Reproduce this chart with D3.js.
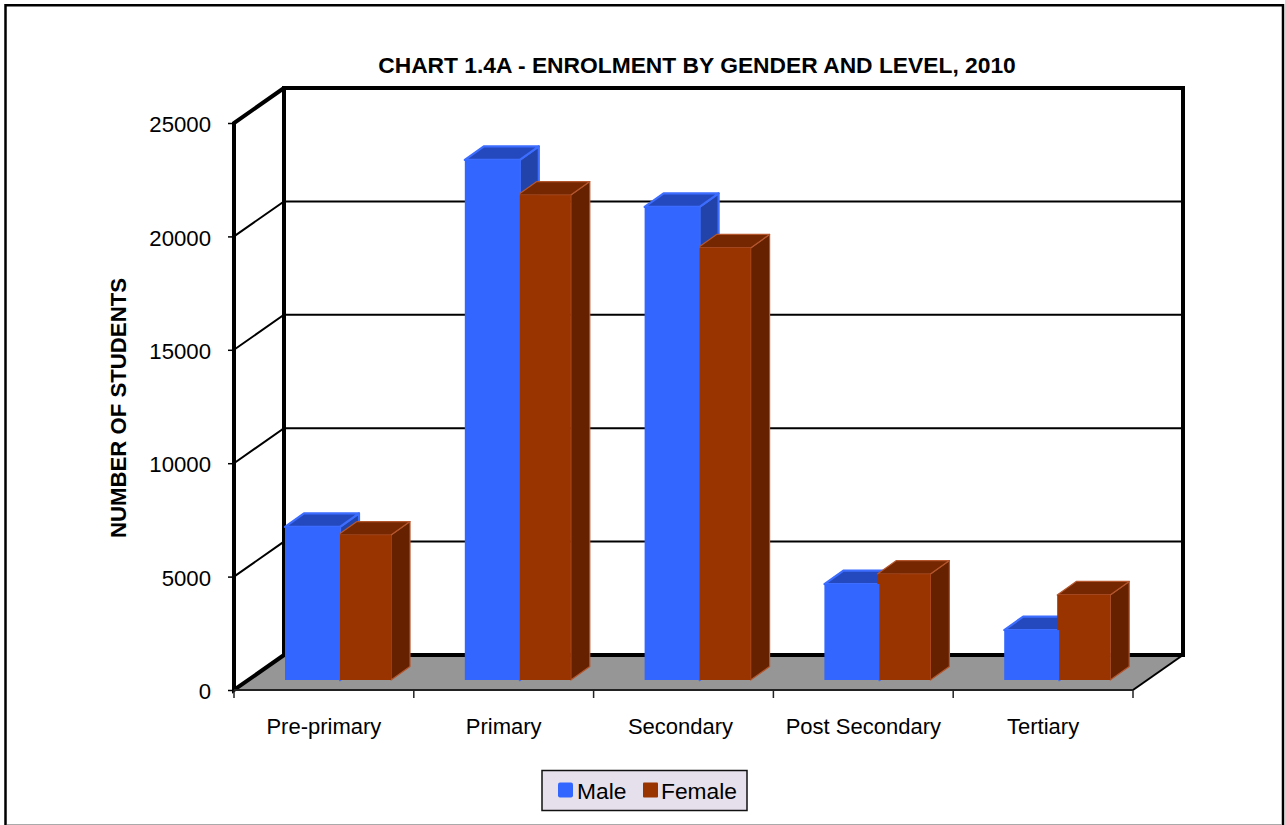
<!DOCTYPE html>
<html><head><meta charset="utf-8">
<script src="https://cdn.jsdelivr.net/npm/d3@7"></script>
<style>html,body{margin:0;padding:0;background:#fff}svg{display:block}text{font-family:"Liberation Sans",Arial,sans-serif;fill:#000}</style>
</head><body><svg id="c" width="1285" height="825"></svg>
<script>
const categories = ["Pre-primary","Primary","Secondary","Post Secondary","Tertiary"];
const male = [6750,22930,20860,4230,2200];
const female = [6390,21380,19050,4670,3750];
const yTicks = [0,5000,10000,15000,20000,25000];
const seriesNames = ["Male","Female"];
const titleText = "CHART 1.4A - ENROLMENT BY GENDER AND LEVEL, 2010";
const yTitle = "NUMBER OF STUDENTS";

const svg = d3.select("#c");
const x = d3.scaleBand().domain(categories).range([234,1133]);
const y = d3.scaleLinear().domain([0,25000]).range([690,123]);
const wall = {dx:50, dy:-35};
const bar = {dx:19, dy:-13.5, lift:10, off:51, mw:55, fw:53, overlap:2};
const colors = {male:{front:"#3366FF",top:"#2449BE",side:"#2244AA",edge:"#3D6DFF",ew:2.2},
                female:{front:"#993300",top:"#742700",side:"#662200",edge:"#B4562E",ew:1.2}};

// frame: three dark edges, and a thin grey line along the bottom
svg.append("path").attr("fill","none").attr("stroke","#000").attr("stroke-width",2.5)
  .attr("d",d3.line()([[5.5,830],[5.5,5.3],[1283,5.3],[1283,830]]));
svg.append("line").attr("x1",7).attr("x2",1282).attr("y1",824.5).attr("y2",824.5)
  .attr("stroke","#aaa").attr("stroke-width",1);

// floor
const x0=x.range()[0], x1=x.range()[1], yb=y(0), yt=y(25000);
svg.append("polygon").attr("fill","#969696")
  .attr("points",[[x0,yb],[x0+wall.dx,yb+wall.dy],[x1+wall.dx,yb+wall.dy],[x1,yb]].join(" "));

// gridlines
const grid = svg.append("g");
yTicks.slice(1,-1).forEach(t=>{
  grid.append("path").attr("fill","none").attr("stroke","#000").attr("stroke-width",2)
    .attr("d",d3.line()([[x0,y(t)],[x0+wall.dx,y(t)+wall.dy],[x1+wall.dx,y(t)+wall.dy]]));
});

// walls
const heavy = svg.append("g").attr("fill","none").attr("stroke","#000").attr("stroke-linejoin","miter");
heavy.append("path").attr("stroke-width",4)
  .attr("d",d3.line()([[x0+wall.dx,yb+wall.dy],[x0+wall.dx,yt+wall.dy],[x1+wall.dx,yt+wall.dy],[x1+wall.dx,yb+wall.dy],[x0+wall.dx,yb+wall.dy]]));
heavy.append("path").attr("stroke-width",4)
  .attr("d",d3.line()([[x0+wall.dx,yb+wall.dy],[x0,yb],[x0,yt],[x0+wall.dx,yt+wall.dy]]));
heavy.append("path").attr("stroke-width",2)
  .attr("d",d3.line()([[x1,yb],[x1+wall.dx,yb+wall.dy]]));

// axes
const yAxis = svg.append("g").attr("transform",`translate(${x0},0)`)
  .call(d3.axisLeft(y).tickValues(yTicks).tickSize(6).tickPadding(17).tickFormat(d3.format("d")));
yAxis.select(".domain").remove();
yAxis.selectAll("line").attr("stroke","#000").attr("stroke-width",1.5);
yAxis.selectAll("text").style("font-size","22.2px").style("font-family",'"Liberation Sans"').attr("dy","0.39em");

const xAxis = svg.append("g").attr("transform",`translate(0,${yb})`)
  .call(d3.axisBottom(x).tickSize(0).tickPadding(28));
xAxis.select(".domain").remove();
xAxis.selectAll("text").style("font-size","22px").style("font-family",'"Liberation Sans"')
  .attr("dx",(d,i)=>i===2?-3:0);
svg.append("line").attr("x1",x0).attr("x2",x1).attr("y1",yb).attr("y2",yb)
  .attr("stroke","#222").attr("stroke-width",2);
const xt = categories.map(c=>x(c)).concat([x1]);
svg.selectAll(".xt").data(xt).join("line").attr("class","xt")
  .attr("x1",d=>d).attr("x2",d=>d).attr("y1",yb).attr("y2",yb+8)
  .attr("stroke","#222").attr("stroke-width",1.5);

// bars
const base = yb-bar.lift;
const h = v => y(0)-y(v);
function drawTop(g,l,r,t,c){
  g.append("polygon").attr("fill",c.top).attr("stroke",c.edge).attr("stroke-width",c.ew).attr("stroke-linejoin","round")
    .attr("points",[[l,t],[l+bar.dx,t+bar.dy],[r+bar.dx,t+bar.dy],[r,t]].join(" "));
}
function drawSide(g,r,t,c){
  g.append("polygon").attr("fill",c.side).attr("stroke",c.edge).attr("stroke-width",c.ew).attr("stroke-linejoin","round")
    .attr("points",[[r,t],[r+bar.dx,t+bar.dy],[r+bar.dx,base+bar.dy],[r,base]].join(" "));
}
function drawFront(g,l,r,t,c){
  g.append("rect").attr("x",l).attr("y",t).attr("width",r-l).attr("height",base-t).attr("fill",c.front);
}
const marks = svg.append("g");
categories.forEach((cat,i)=>{
  const l=x(cat)+bar.off, m=l+bar.mw, f=m-bar.overlap, fr=f+bar.fw;
  const tm=base-h(male[i]), tf=base-h(female[i]);
  drawSide(marks,m,tm,colors.male); drawTop(marks,l,m,tm,colors.male);
  drawSide(marks,fr,tf,colors.female); drawTop(marks,f,fr,tf,colors.female);
  drawFront(marks,f,fr,tf,colors.female);
  drawFront(marks,l,m,tm,colors.male);
});

// titles
svg.append("text").attr("x",697).attr("y",73).attr("text-anchor","middle")
  .style("font-size","22.8px").style("font-weight","bold").text(titleText);
svg.append("text").attr("transform","translate(125.5,408) rotate(-90)").attr("text-anchor","middle")
  .style("font-size","22.2px").style("font-weight","bold").text(yTitle);

// legend
const lg = svg.append("g");
lg.append("rect").attr("x",542).attr("y",770.5).attr("width",205).attr("height",40)
  .attr("fill","#E6E0EC").attr("stroke","#111").attr("stroke-width",1.5);
const lx=[558,643], tx=[577,661], lc=[colors.male.front,colors.female.front];
seriesNames.forEach((n,i)=>{
  lg.append("rect").attr("x",lx[i]).attr("y",782.5).attr("width",15).attr("height",15).attr("rx",i?1:2).attr("fill",lc[i]);
  lg.append("text").attr("x",tx[i]).attr("y",799).style("font-size","22.8px").text(n);
});
</script></body></html>
